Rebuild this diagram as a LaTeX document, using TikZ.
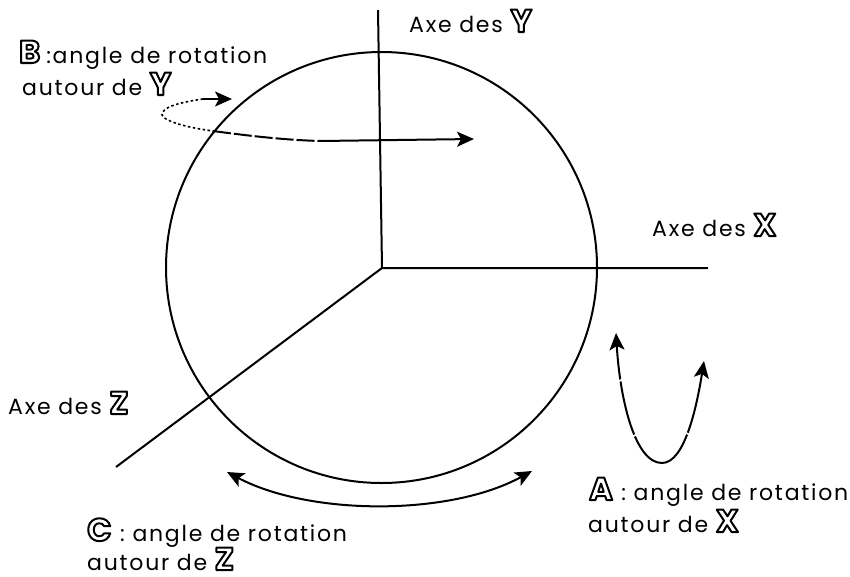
\documentclass[tikz,border=0pt]{standalone}
\usepackage{fontspec}
\setmainfont[LetterSpace=8]{Poppins}
\newfontfamily\dblfont{Poppins}
\usetikzlibrary{arrows.meta,positioning}
\newcommand{\dbl}[1]{{\dblfont\bfseries\fontsize{32}{32}\selectfont\special{pdf:code q 2 Tr 2 w 1 j 0 0 0 RG 1 1 1 rg}#1\special{pdf:code Q}}}
\tikzset{
  axisline/.style={line width=2pt},
  rotflow/.style={-{Stealth[length=17pt,width=15pt,inset=4pt]}, line width=2pt},
  lbl/.style={font=\fontsize{22}{22}\selectfont, anchor=base west, inner sep=0pt}
}
\begin{document}
\begin{tikzpicture}[x=1pt,y=-1pt]
  \useasboundingbox (0,0) rectangle (850,576);
  % sphere and axes
  \node[draw,circle,line width=2pt,minimum size=431pt,inner sep=0pt] (sphere) at (381.5,267.5) {};
  \coordinate (origin) at (382,268);
  \coordinate (yend) at (378,10);
  \coordinate (xend) at (708,268);
  \coordinate (zend) at (116,467);
  \draw[axisline] (yend) -- (origin) -- (xend);
  \draw[axisline] (origin) -- (zend);
  % axis labels
  \node[lbl] (ylabel) at (409,32) {Axe des \dbl{Y}};
  \node[lbl] (xlabel) at (652,236) {Axe des \dbl{X}};
  \node[lbl] (zlabel) at (8,414) {Axe des \dbl{Z}};
  % rotation B
  \node[lbl] (blabel) at (19,63) {\dbl{B}\hspace{6pt}:angle de rotation};
  \node[lbl] (blabelb) at (22,95) {autour de \dbl{Y}};
  \coordinate (bstart) at (203,99);
  \coordinate (btip) at (232,99);
  \coordinate (bleft) at (162,115);
  \coordinate (bmid) at (213,131);
  \coordinate (bjoin) at (320,141);
  \coordinate (bend) at (474,139);
  \draw[line width=1.6pt,dash pattern=on 2.5pt off 2.5pt] (bstart) .. controls (175,103) and (162,108) .. (bleft) .. controls (165,122) and (190,128) .. (bmid);
  \draw[rotflow] (bstart) -- (btip);
  \draw[line width=2pt,dash pattern=on 18pt off 3pt] (bmid) .. controls (250,136) and (285,140) .. (bjoin);
  \draw[rotflow] (bjoin) -- (bend);
  % rotation A
  \coordinate (atipl) at (616,333);
  \coordinate (atipr) at (704,361);
  \coordinate (abot) at (662,463);
  \draw[rotflow,dash pattern=on 40pt off 2pt on 55pt off 2pt on 100pt] (abot) .. controls (635,463) and (620,400) .. (atipl);
  \draw[rotflow,dash pattern=on 40pt off 2pt on 200pt] (abot) .. controls (685,463) and (697,405) .. (atipr);
  \node[lbl] (alabel) at (589,500) {\dbl{A}\hspace{1pt} : angle de rotation};
  \node[lbl] (alabelb) at (588,532) {autour de \dbl{X}};
  % rotation C
  \coordinate (ctipl) at (227,472);
  \coordinate (ctipr) at (532,471);
  \draw[{Stealth[length=17pt,width=15pt,inset=4pt]}-{Stealth[length=17pt,width=15pt,inset=4pt]},line width=2pt] (ctipl) .. controls (310,516) and (450,516) .. (ctipr);
  \node[lbl] (clabel) at (87,541) {\dbl{C}\hspace{1pt} : angle de rotation};
  \node[lbl] (clabelb) at (87,570) {autour de \dbl{Z}};
\end{tikzpicture}
\end{document}
